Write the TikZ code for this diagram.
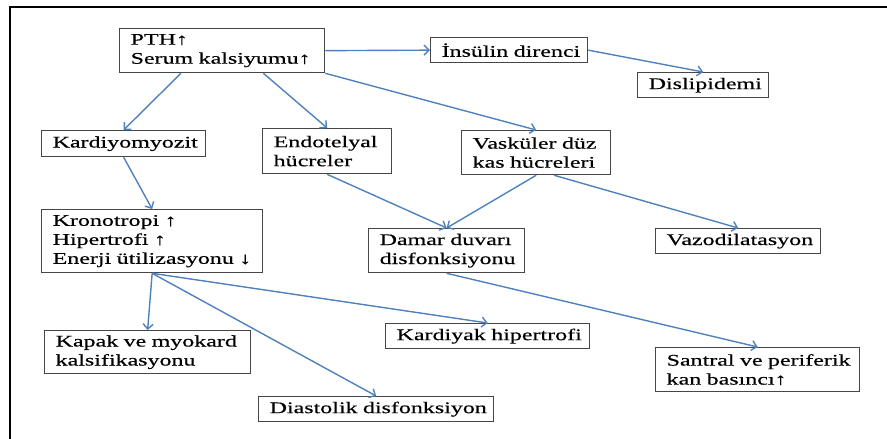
\documentclass[tikz,border=0pt]{standalone}
\usepackage{fontspec}
\setmainfont[FakeStretch=1.48, FakeBold=0.4]{Liberation Serif}
\usetikzlibrary{arrows.meta, calc}
\definecolor{arrowblue}{RGB}{79,129,189}
\definecolor{boxgray}{RGB}{70,70,70}

\begin{document}
\begin{tikzpicture}[
    x=1pt, y=-1pt,
    block/.style={rectangle, draw=boxgray, line width=1.3pt, anchor=north west,
                  inner xsep=5pt, inner ysep=0pt, align=left,
                  execute at begin node={\leftskip=6pt},
                  font=\fontsize{16.2}{19}\selectfont},
    size/.style 2 args={minimum width=#1pt, minimum height=#2pt, text width=#1pt-10pt},
    arrow/.style={-{Straight Barb[length=5pt, width=10pt]}, line width=1.4pt, draw=arrowblue}
]
    \useasboundingbox (0,0) rectangle (887,439);
    % outer frame (top and left only)
    \draw[line width=2pt] (887,7) -- (10,7) -- (10,439);

    \node[block, size={205}{44}] (pth) at (119,28) {PTH↑\\Serum kalsiyumu↑};
    \node[block, size={157}{25}] (ins) at (430,37) {İnsülin direnci};
    \node[block, size={131}{25}] (dis) at (637,72) {Dislipidemi};
    \node[block, size={164}{26}] (kar) at (41,130) {Kardiyomyozit};
    \node[block, size={129}{45}] (end) at (262,128) {Endotelyal\\hücreler};
    \node[block, size={149}{44}] (vas) at (461,130) {Vasküler düz\\kas hücreleri};
    \node[block, size={221}{63}] (kro) at (41,209) {Kronotropi ↑\\Hipertrofi ↑\\Enerji ütilizasyonu ↓};
    \node[block, size={156}{44}] (dam) at (368,228) {Damar duvarı\\disfonksiyonu};
    \node[block, size={165}{25}] (vaz) at (655,228) {Vazodilatasyon};
    \node[block, size={206}{43}] (kap) at (44,330) {Kapak ve myokard\\kalsifikasyonu};
    \node[block, size={204}{25}] (kdy) at (385,323) {Kardiyak hipertrofi};
    \node[block, size={204}{44}] (san) at (655,347) {Santral ve periferik\\kan basıncı↑};
    \node[block, size={235}{25}] (dia) at (258,396) {Diastolik disfonksiyon};

    \draw[arrow] (pth.east) -- (ins.west);
    \draw[arrow] (ins.east) -- (dis.north);
    \draw[arrow] ($(pth.south west)!0.3!(pth.south east)$) -- (kar.north);
    \draw[arrow] ($(pth.south west)!0.7!(pth.south east)$) -- (end.north);
    \draw[arrow] (pth.south east) -- (vas.north);
    \draw[arrow] (kar.south) -- (kro.north);
    \draw[arrow] (end.south) -- (dam.north);
    \draw[arrow] (vas.south) -- (dam.north);
    \draw[arrow] ($(vas.south west)!0.62!(vas.south east)$) -- (vaz.north);
    \draw[arrow] (dam.south) -- (san.north);
    \draw[arrow] (kro.south) -- (kap.north);
    \draw[arrow] (kro.south) -- (kdy.north);
    \draw[arrow] (kro.south) -- (dia.north);
\end{tikzpicture}
\end{document}
